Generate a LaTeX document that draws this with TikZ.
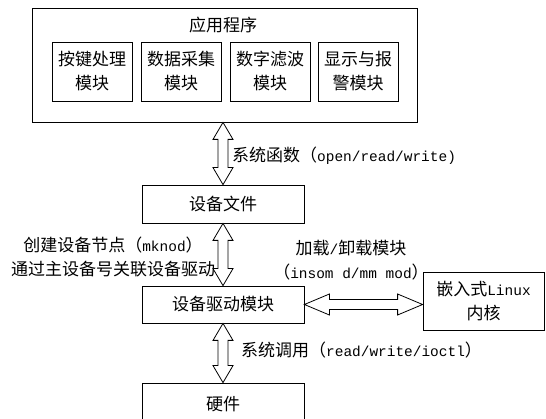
\documentclass[tikz,border=0pt]{standalone}
\usepackage{fontspec}
\setmainfont{Noto Sans CJK SC}
\newfontfamily\latin[Scale=0.85]{Liberation Mono}
\usetikzlibrary{calc}
\tikzset{
  blk/.style={draw, line width=0.8pt, inner sep=0pt, align=center},
  lbl/.style={inner sep=0pt, align=center},
  hollow/.style={draw, line width=0.8pt, fill=white, line join=miter}
}
\newcommand{\vlink}[2]{%
  \draw[hollow] let \p1=(#1), \p2=(#2) in
    (\x1,\y1) -- (\x1+10pt,\y1-17pt) -- (\x1+5pt,\y1-17pt) -- (\x1+5pt,\y2+17pt)
    -- (\x1+10pt,\y2+17pt) -- (\x1,\y2) -- (\x1-10pt,\y2+17pt) -- (\x1-5pt,\y2+17pt)
    -- (\x1-5pt,\y1-17pt) -- (\x1-10pt,\y1-17pt) -- cycle;}
\newcommand{\hlink}[2]{%
  \draw[hollow] let \p1=(#1), \p2=(#2) in
    (\x1,\y1) -- (\x1+25pt,\y1+10.5pt) -- (\x1+25pt,\y1+5pt) -- (\x2-25pt,\y1+5pt)
    -- (\x2-25pt,\y1+10.5pt) -- (\x2,\y1) -- (\x2-25pt,\y1-10.5pt) -- (\x2-25pt,\y1-5pt)
    -- (\x1+25pt,\y1-5pt) -- (\x1+25pt,\y1-10.5pt) -- cycle;}
\begin{document}
\begin{tikzpicture}[x=1pt, y=-1pt, font=\fontsize{17}{24}\selectfont]
                    \useasboundingbox (0,0) rectangle (546,419);
                    \node (app) at (224.5,65) [blk, minimum width=385, minimum height=114] {};
                    \node (title) at (223,25) [lbl] {应用程序};
                    \node (m1) at (92,71.5) [blk, minimum width=80, minimum height=59] {按键处理\\模块};
                    \node (m2) at (181,71.5) [blk, minimum width=80, minimum height=59] {数据采集\\模块};
                    \node (m3) at (270,71.5) [blk, minimum width=80, minimum height=59] {数字滤波\\模块};
                    \node (m4) at (358,71.5) [blk, minimum width=80, minimum height=59] {显示与报\\警模块};
                    \node (file) at (223,204) [blk, minimum width=162, minimum height=38] {设备文件};
                    \node (drv) at (223,304.5) [blk, minimum width=162, minimum height=37] {设备驱动模块};
                    \node (hw) at (223,404) [blk, minimum width=162, minimum height=42] {硬件};
                    \node (kernel) at (483.5,301) [blk, minimum width=121, minimum height=58] {嵌入式{\latin Linux}\\内核};
                    \vlink{file.north |- app.south}{file.north};
                    \vlink{file.south}{drv.north};
                    \vlink{drv.south}{hw.north};
                    \hlink{drv.east}{kernel.west |- drv.east};
                    \node (lsys) at (232,156) [lbl, anchor=west] {系统函数（{\latin open/read/write)}};
                    \node (lnode) at (113,256.5) [lbl] {创建设备节点（{\latin mknod}）\\通过主设备号关联设备驱动};
                    \node (lload) at (351,260) [lbl] {加载{\latin /}卸载模块\\（{\latin insom d/mm mod}）};
                    \node (lcall) at (241,350) [lbl, anchor=west] {系统调用（{\latin read/write/ioctl}）};
                \end{tikzpicture}
\end{document}
